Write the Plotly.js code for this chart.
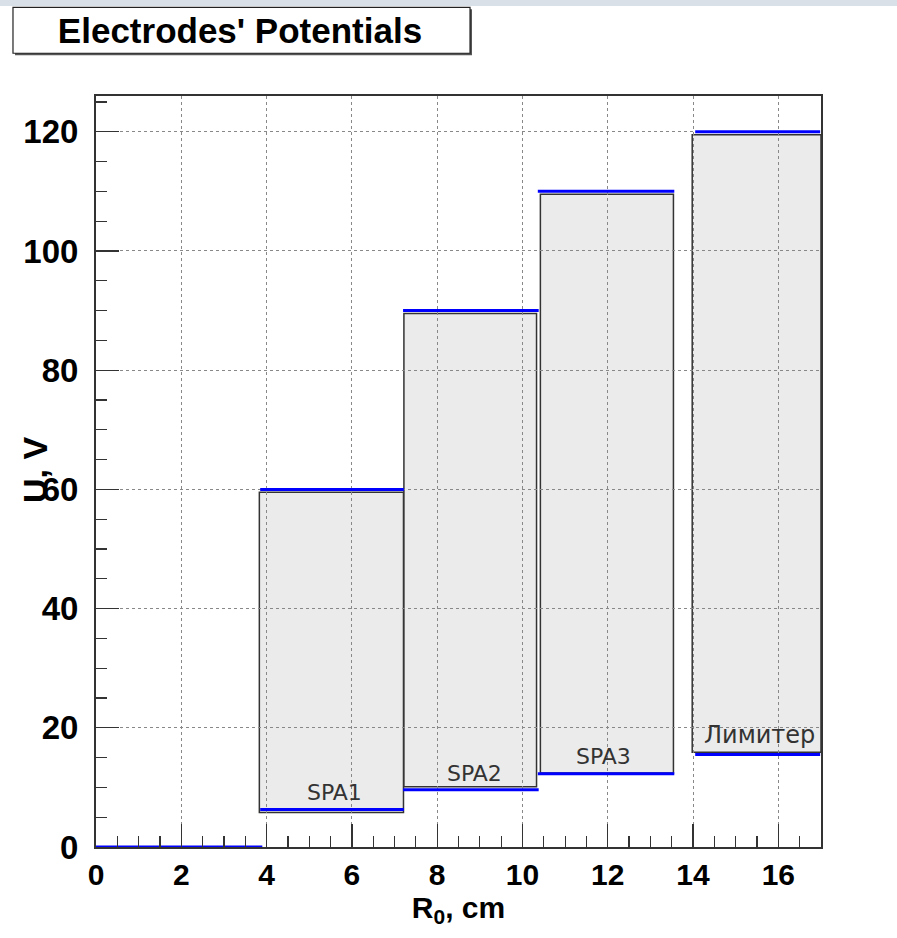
<!DOCTYPE html>
<html>
<head>
<meta charset="utf-8">
<script src="https://cdn.plot.ly/plotly-3.0.1.min.js"></script>
<style>html,body{margin:0;padding:0;background:#fff;}#chart{width:897px;height:938px;}</style>
</head>
<body>
<div id="chart"></div>
<script>
// ---- data ----
const groundR = [0, 3.9];
const groundU = [0, 0];
const electrodes = ['SPA1', 'SPA2', 'SPA3', 'Лимитер'];
const rStart = [3.85, 7.2, 10.36, 14.05];
const rEnd = [7.22, 10.38, 13.56, 16.98];
const uMax = [60, 90, 110, 120];
const uMin = [6.3, 9.6, 12.3, 15.5];
const boxR0 = [3.83, 7.22, 10.42, 13.98];
const boxR1 = [7.21, 10.33, 13.54, 17.0];
const boxU0 = [5.8, 10.1, 12.4, 15.9];
const boxU1 = [59.5, 89.5, 109.5, 119.5];
const labelR = [5.59, 8.88, 11.91, 15.55];
const labelU = [9.1, 12.4, 15.2, 18.8];
const xTicks = [0, 2, 4, 6, 8, 10, 12, 14, 16];
const yTicks = [0, 20, 40, 60, 80, 100, 120];

// ---- build ----
const lx = [], ly = [];
groundR.forEach((r, i) => { lx.push(r); ly.push(groundU[i]); });
lx.push(null); ly.push(null);
electrodes.forEach((e, i) => {
  lx.push(rStart[i], rEnd[i], null, rStart[i], rEnd[i], null);
  ly.push(uMax[i], uMax[i], null, uMin[i], uMin[i], null);
});

const traces = [{
  type: 'scatter', mode: 'lines', x: lx, y: ly,
  line: {color: '#0000ff', width: 3}, hoverinfo: 'skip', showlegend: false, cliponaxis: false
}];

const shapes = electrodes.map((e, i) => ({
  type: 'rect', xref: 'x', yref: 'y', layer: 'below',
  x0: boxR0[i], x1: boxR1[i], y0: boxU0[i], y1: boxU1[i],
  fillcolor: '#ebebeb', line: {color: '#333', width: 1.5}
}));
// top decorative strip
shapes.push({type: 'rect', xref: 'paper', yref: 'paper', x0: -0.2, x1: 1.2, y0: 1.1198, y1: 1.1290,
  fillcolor: '#d9e0e8', line: {width: 0}});
// title box shadow + box
shapes.push({type: 'rect', xref: 'paper', yref: 'paper', x0: -0.1117, x1: 0.5186, y0: 1.0542, y1: 1.1154,
  fillcolor: '#555', line: {width: 0}});
shapes.push({type: 'rect', xref: 'paper', yref: 'paper', x0: -0.1145, x1: 0.5159, y0: 1.0569, y1: 1.1181,
  fillcolor: '#ffffff', line: {color: '#222', width: 1.2}});

const annotations = electrodes.map((e, i) => ({
  text: e, x: labelR[i], y: labelU[i], xref: 'x', yref: 'y', showarrow: false,
  xanchor: 'center', yanchor: 'middle',
  font: {family: 'DejaVu Sans', size: i === 3 ? 24 : 22, color: '#333'}
}));
annotations.push({
  text: 'U, V', xref: 'paper', yref: 'paper', x: -0.0841, y: 0.502, textangle: -90,
  showarrow: false, xanchor: 'center', yanchor: 'middle',
  font: {family: 'Liberation Sans, Arial', size: 34, weight: 'bold', color: '#000'}
});

const axisCommon = {
  showline: true, linecolor: '#333', linewidth: 2, mirror: true,
  ticks: 'inside', ticklen: 23, tickwidth: 1.3, tickcolor: '#333',
  showgrid: true, gridcolor: '#888', griddash: 'dot', gridwidth: 1,
  zeroline: false
};

const layout = {
  width: 897, height: 938,
  margin: {l: 96, r: 76, t: 96, b: 91},
  paper_bgcolor: '#fff', plot_bgcolor: '#fff',
  title: {text: "Electrodes' Potentials", x: 240 / 897, xanchor: 'center', xref: 'container',
    y: 1 - 31 / 938, yanchor: 'middle', yref: 'container',
    font: {family: 'Liberation Sans, Arial', size: 35, weight: 'bold', color: '#000'}},
  xaxis: Object.assign({}, axisCommon, {
    range: [0, 17], tickvals: xTicks, ticktext: xTicks.map(String),
    minor: {dtick: 0.5, ticks: 'inside', ticklen: 11, tickcolor: '#333', tickwidth: 1.2, showgrid: false},
    tickfont: {family: 'Liberation Sans, Arial', size: 30, weight: 'bold', color: '#000'},
    ticklabelstandoff: 0,
    title: {text: 'R<sub>0</sub>, cm', standoff: 0,
      font: {family: 'Liberation Sans, Arial', size: 30, weight: 'bold', color: '#000'}}
  }),
  yaxis: Object.assign({}, axisCommon, {
    range: [0, 126], tickvals: yTicks, ticktext: yTicks.map(String),
    minor: {dtick: 5, ticks: 'inside', ticklen: 11, tickcolor: '#333', tickwidth: 1.2, showgrid: false},
    tickfont: {family: 'Liberation Sans, Arial', size: 33, weight: 'bold', color: '#000'},
    ticklabelstandoff: 9
  }),
  shapes: shapes,
  annotations: annotations,
  showlegend: false
};

Plotly.newPlot('chart', traces, layout, {staticPlot: true});
</script>
</body>
</html>
